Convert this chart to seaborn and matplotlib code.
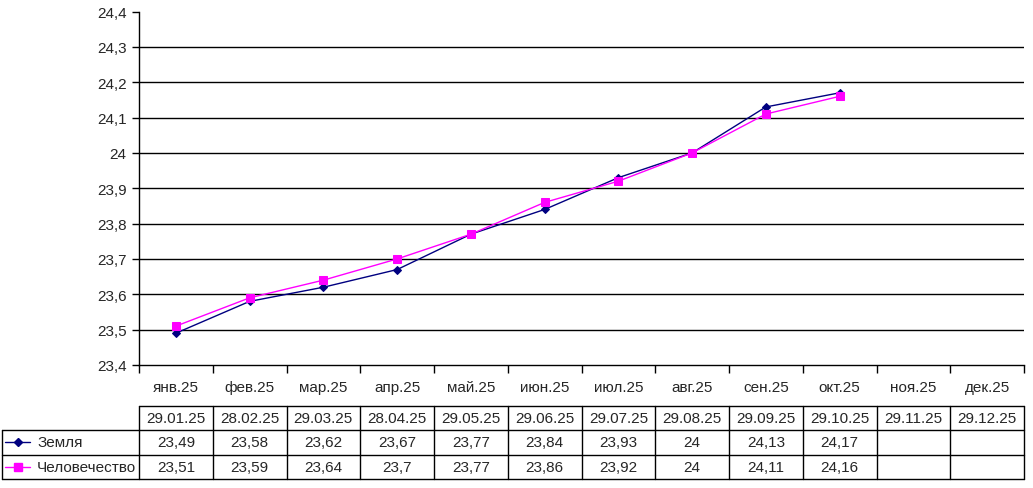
import numpy as np
import pandas as pd
import matplotlib
matplotlib.use("Agg")
import matplotlib.pyplot as plt
import seaborn as sns

months = ["янв.25", "фев.25", "мар.25", "апр.25", "май.25", "июн.25",
          "июл.25", "авг.25", "сен.25", "окт.25", "ноя.25", "дек.25"]
dates = ["29.01.25", "28.02.25", "29.03.25", "28.04.25", "29.05.25", "29.06.25",
         "29.07.25", "29.08.25", "29.09.25", "29.10.25", "29.11.25", "29.12.25"]
zemlya = [23.49, 23.58, 23.62, 23.67, 23.77, 23.84, 23.93, 24.00, 24.13, 24.17]
chelovechestvo = [23.51, 23.59, 23.64, 23.70, 23.77, 23.86, 23.92, 24.00, 24.11, 24.16]
series_names = ["Земля", "Человечество"]
ytick_vals = [23.4, 23.5, 23.6, 23.7, 23.8, 23.9, 24.0, 24.1, 24.2, 24.3, 24.4]

sns.set_style("white")
plt.rcParams['font.family'] = ['Liberation Sans', 'DejaVu Sans']

W, H = 1033, 489
fig = plt.figure(figsize=(W / 100, H / 100), dpi=100)

L, R, T, B = 139, 1024, 12.5, 366
ax = fig.add_axes([L / W, 1 - B / H, (R - L) / W, (B - T) / H])

colors = ["#000080", "#FF00FF"]
markers = ["D", "s"]
msizes = [4.5, 5.5]
for name, vals, c, m, ms in zip(series_names, [zemlya, chelovechestvo], colors, markers, msizes):
    df = pd.DataFrame({"x": np.arange(len(vals)) + 0.5, "y": vals})
    sns.lineplot(data=df, x="x", y="y", ax=ax, color=c, marker=m, markersize=ms,
                 markeredgecolor=c, markerfacecolor=c, linewidth=1)

ax.set_xlim(0, 12)
ax.set_ylim(23.4, 24.4)
ax.set_yticks(ytick_vals)
ax.set_yticklabels([("%g" % v).replace(".", ",") for v in ytick_vals], fontsize=11)
ax.set_xticks(np.arange(13))
ax.set_xticklabels([])
ax.set_xlabel("")
ax.set_ylabel("")
for v in ytick_vals[1:-1]:
    ax.axhline(v, color="black", lw=1, zorder=0)
for s in ["top", "right"]:
    ax.spines[s].set_visible(False)
for s in ["left", "bottom"]:
    ax.spines[s].set_color("black")
    ax.spines[s].set_linewidth(1)
ax.tick_params(axis="both", direction="out", length=5, width=1, color="black",
               bottom=True, left=True, pad=4)
ax.tick_params(axis="x", length=6)

# table overlay in pixel coordinates
tab = fig.add_axes([0, 0, 1, 1])
tab.set_xlim(0, W)
tab.set_ylim(H, 0)
tab.axis("off")
tab.patch.set_alpha(0)

cw = (R - L) / 12
fs = 11
for i, mth in enumerate(months):
    tab.text(L + cw * (i + 0.5), 388, mth, ha="center", va="center", fontsize=fs)

rows_y = [407, 430.5, 455.5, 480]
# horizontal lines
tab.plot([L, R], [rows_y[0], rows_y[0]], color="black", lw=1)
for y in rows_y[1:]:
    tab.plot([2, R], [y, y], color="black", lw=1)
# vertical lines
tab.plot([2, 2], [rows_y[1], rows_y[3]], color="black", lw=1)
for k in range(13):
    x = L + cw * k
    tab.plot([x, x], [rows_y[0], rows_y[3]], color="black", lw=1)

for i, d in enumerate(dates):
    tab.text(L + cw * (i + 0.5), (rows_y[0] + rows_y[1]) / 2, d, ha="center", va="center", fontsize=fs)

for r, (name, vals, c, m, ms) in enumerate(zip(series_names, [zemlya, chelovechestvo], colors, markers, msizes)):
    yc = (rows_y[r + 1] + rows_y[r + 2]) / 2
    tab.plot([5, 30], [yc, yc], color=c, lw=1)
    tab.plot([17.5], [yc], marker=m, color=c, markersize=ms, markeredgecolor=c)
    tab.text(37, yc, name, ha="left", va="center", fontsize=fs)
    for i, v in enumerate(vals):
        tab.text(L + cw * (i + 0.5), yc, ("%g" % v).replace(".", ","), ha="center", va="center", fontsize=fs)

fig.savefig("out.png", dpi=100)
